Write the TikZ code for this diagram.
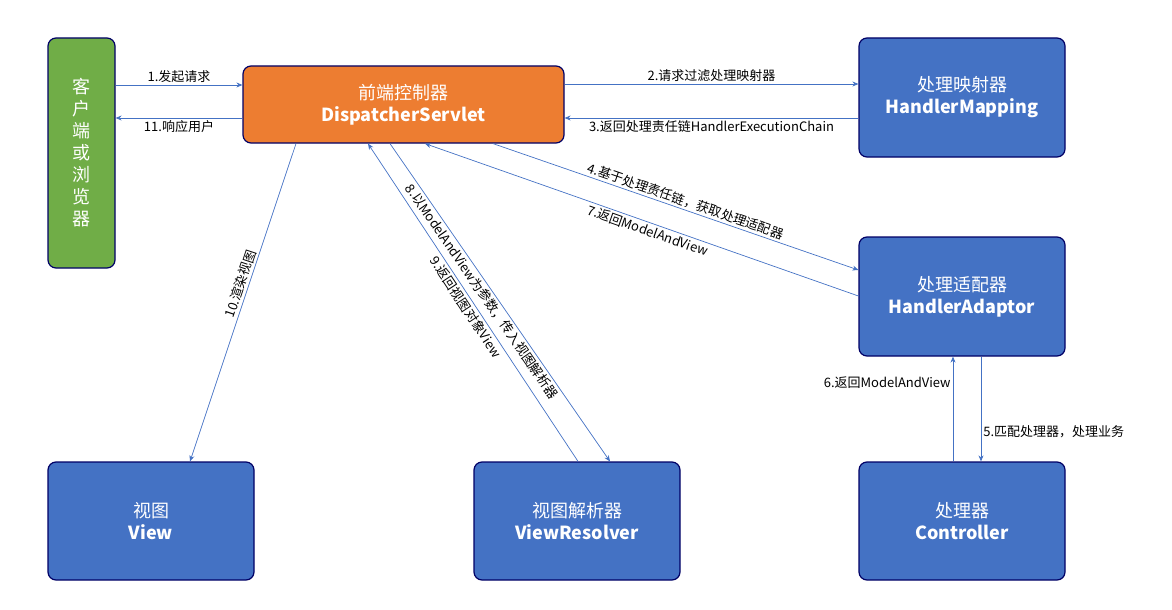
\documentclass[tikz,border=0pt]{standalone}
\usepackage{fontspec}
\setmainfont{Noto Sans CJK SC}
\usetikzlibrary{arrows.meta}
\begin{document}
\begin{tikzpicture}[x=1pt,y=-1pt,
 box/.style={draw=blue!40!black,line width=1.2pt,rounded corners=8pt,fill=#1,text=white,font=\fontsize{18}{22}\selectfont,align=center,inner sep=0pt},
 arr/.style={draw={rgb,255:red,68;green,114;blue,196},line width=0.7pt,-{Stealth[length=6pt,width=5pt]}},
 lab/.style={font=\fontsize{13}{15}\selectfont,inner sep=2pt,text=black}]
\definecolor{bl}{RGB}{68,114,196}
\definecolor{gr}{RGB}{112,173,71}
\definecolor{og}{RGB}{237,125,49}
\useasboundingbox (0,0) rectangle (1172,610);
\node[box=gr,minimum width=67pt,minimum height=230pt] (client) at (81.5,153) {客\\户\\端\\或\\浏\\览\\器};
\node[box=og,minimum width=321pt,minimum height=77pt] (ds) at (403.5,104.5) {前端控制器\\\textbf{DispatcherServlet}};
\node[box=bl,minimum width=206pt,minimum height=119pt] (hm) at (962,97.5) {处理映射器\\\textbf{HandlerMapping}};
\node[box=bl,minimum width=206pt,minimum height=119pt] (ha) at (962,296.5) {处理适配器\\\textbf{HandlerAdaptor}};
\node[box=bl,minimum width=206pt,minimum height=118pt] (v) at (151,521) {视图\\\textbf{View}};
\node[box=bl,minimum width=206pt,minimum height=118pt] (vr) at (577,521) {视图解析器\\\textbf{ViewResolver}};
\node[box=bl,minimum width=206pt,minimum height=118pt] (c) at (962,521) {处理器\\\textbf{Controller}};
\draw[arr] (client.east|-0,85) -- node[lab,above]{1.发起请求} (ds.west|-0,85);
\draw[arr] (ds.west|-0,118) -- node[lab,below]{11.响应用户} (client.east|-0,118);
\draw[arr] (ds.east|-0,84) -- node[lab,above]{2.请求过滤处理映射器} (hm.west|-0,84);
\draw[arr] (hm.west|-0,118) -- node[lab,below]{3.返回处理责任链HandlerExecutionChain} (ds.east|-0,118);
\draw[arr] (ds.south-|493,0) -- node[lab,sloped,above,pos=0.52]{4.基于处理责任链，获取处理适配器} (ha.west|-0,270);
\draw[arr] (ha.west|-0,296) -- node[lab,sloped,below,pos=0.48]{7.返回ModelAndView} (ds.south-|425,0);
\draw[arr] (ds.south-|296,0) -- node[lab,sloped,above,pos=0.45]{10.渲染视图} (v.north-|190,0);
\draw[arr] (ds.south-|390,0) -- node[lab,sloped,below,pos=0.45]{8.以ModelAndView为参数，传入视图解析器} (vr.north-|610,0);
\draw[arr] (vr.north-|578,0) -- node[lab,sloped,below,pos=0.5]{9.返回视图对象View} (ds.south-|368,0);
\draw[arr] (c.north-|953,0) -- node[lab,left,pos=0.75]{6.返回ModelAndView} (ha.south-|953,0);
\draw[arr] (ha.south-|981,0) -- node[lab,right,pos=0.72]{5.匹配处理器，处理业务} (c.north-|981,0);
\end{tikzpicture}
\end{document}
